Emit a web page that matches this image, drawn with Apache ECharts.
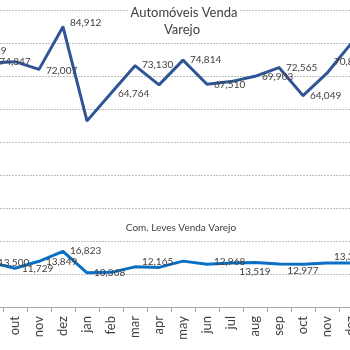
<!DOCTYPE html>
<html>
<head>
<meta charset="utf-8">
<script src="https://cdn.jsdelivr.net/npm/echarts@6/dist/echarts.min.js"></script>
<style>
html,body{margin:0;padding:0;background:#fff;width:350px;height:350px;overflow:hidden;position:relative;}
#c{position:absolute;left:-21px;top:-23px;width:384px;height:373px;}
</style>
</head>
<body>
<div id="c"></div>
<script>
// Data (first month 'set' lies just left of the visible crop)
const categories = ['set','out','nov','dez','jan','feb','mar','apr','may','jun','jul','aug','sep','oct','nov','dez'];
const automoveis = [73919, 74347, 72007, 84912, 56400, 64764, 73130, 67300, 74814, 67510, 68300, 69903, 72565, 64049, 70850, 79800];
const comLeves   = [13500, 11729, 13849, 16823, 10368, 10500, 12165, 12000, 13900, 12968, 13300, 13519, 13000, 12977, 13300, 13300];
const titleTopLines = ['Automóveis Venda', 'Varejo'];
const titleBottom = 'Com. Leves Venda Varejo';

// label placement (style only)
const autoLabelPos = [['top',[0,0]],['inside',[0,0]],['right',[0,1]],['right',[0,-4]],null,['right',[0,1]],['right',[0,-1]],null,['right',[0,0]],['right',[0,1]],null,['right',[0,0]],['right',[0,0]],['right',[0,0]],['right',[0,-11]],null];
const levesLabelPos = [['right',[0,0]],['right',[0,0]],['right',[0,0]],['right',[0,-1]],['right',[0,0]],null,['right',[0,-5]],null,null,['right',[0,-2]],null,['bottom',[0,-3]],null,['bottom',[0,-5]],['right',[0,-6]],null];

const fmt = v => v.toLocaleString('en-US');
function build(vals, pos){
  return vals.map((v,i)=>{
    const p = pos[i];
    if(!p) return {value:v, label:{show:false}};
    return {value:v, label:{show:true, position:p[0], offset:p[1]}};
  });
}

const CX = 205; // visible centre ~184 + 21 offset
const titleStyle = {fontFamily:'Lato', fontSize:13, fill:'#404040', align:'center', verticalAlign:'middle', backgroundColor:'#fff', padding:[0,2]};

const chart = echarts.init(document.getElementById('c'), null, {renderer:'canvas'});
chart.setOption({
  animation:false,
  backgroundColor:'#fff',
  grid:{left:0, right:0, top:0, bottom:43, containLabel:false, outerBoundsMode:'none'},
  xAxis:{
    type:'category', data:categories, boundaryGap:true,
    axisLine:{lineStyle:{color:'#a6a6a6', width:1}},
    axisTick:{show:true, length:5, lineStyle:{color:'#a6a6a6'}},
    axisLabel:{rotate:90, margin:9, fontFamily:'Lato', fontSize:13, color:'#404040', interval:0, hideOverlap:false}
  },
  yAxis:{
    type:'value', min:0, max:100000, interval:10000,
    axisLabel:{show:false}, axisLine:{show:false}, axisTick:{show:false},
    splitLine:{lineStyle:{color:'#bfbfbf', type:[2,1], width:1}}
  },
  graphic:[
    {type:'text', x:CX, y:36, z:10, style:Object.assign({text:titleTopLines[0]}, titleStyle)},
    {type:'text', x:CX-2, y:53, z:10, style:Object.assign({text:titleTopLines[1]}, titleStyle)},
    {type:'text', x:CX-3, y:251, z:10, style:Object.assign({text:titleBottom}, titleStyle, {fontSize:10})}
  ],
  series:[
    {
      type:'line', data:build(automoveis, autoLabelPos),
      symbol:'circle', symbolSize:2, showSymbol:true,
      lineStyle:{color:'#2f5597', width:3}, itemStyle:{color:'#2f5597'},
      label:{fontFamily:'Lato', fontSize:10, color:'#404040', distance:6, formatter:p=>fmt(p.value)},
      z:3
    },
    {
      type:'line', data:build(comLeves, levesLabelPos),
      symbol:'circle', symbolSize:2, showSymbol:true,
      lineStyle:{color:'#0a70c4', width:3}, itemStyle:{color:'#0a70c4'},
      label:{fontFamily:'Lato', fontSize:10, color:'#404040', distance:6, formatter:p=>fmt(p.value)},
      z:3
    }
  ]
});
</script>
</body>
</html>
